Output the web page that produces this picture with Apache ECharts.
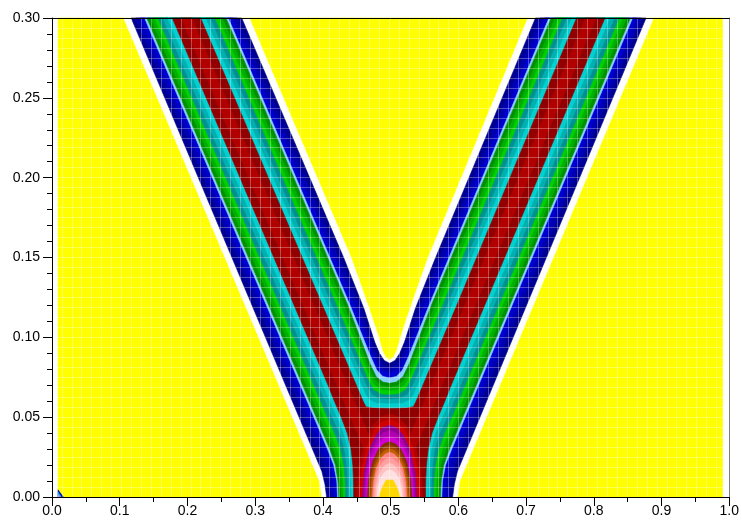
<!DOCTYPE html>
<html><head><meta charset="utf-8">
<script src="https://cdn.jsdelivr.net/npm/echarts@6.0.0/dist/echarts.min.js"></script>
<style>html,body{margin:0;padding:0;background:#fff}#c{width:742px;height:525px}</style>
</head><body><div id="c"></div>
<script>
// Filled contour bands: each array is the region where the field
// exceeds one level (x, t). Drawn from lowest to highest level.
const YELLOW = [[0.009,0],[0.99,0],[0.99,0.3],[0.009,0.3]];
const CORNER_BLUE = [[0.009,0],[0.0166,0],[0.009,0.0045]];
const CORNER_CYAN = [[0.009,0],[0.0135,0],[0.009,0.003]];
const CORNER_PINK = [[0.009,0],[0.011,0],[0.009,0.0015]];
const L08 = [[0.1058,0.3],[0.395,0.01],[0.3985,0],[0.5985,0],[0.602,0.01],[0.8882,0.3],[0.7028,0.3],[0.5555,0.15],[0.5345,0.125],[0.5181,0.1046],[0.5095,0.092],[0.5045,0.0875],[0.4985,0.0858],[0.4925,0.0875],[0.4875,0.092],[0.4789,0.1046],[0.4625,0.125],[0.4415,0.15],[0.2912,0.3]];
const L09 = [[0.1169,0.3],[0.3985,0.016],[0.403,0.008],[0.4055,0],[0.5915,0],[0.594,0.008],[0.5985,0.016],[0.8771,0.3],[0.7139,0.3],[0.5665,0.15],[0.5365,0.118],[0.5205,0.097],[0.5135,0.09],[0.5065,0.0855],[0.4985,0.0837],[0.4905,0.0855],[0.4835,0.09],[0.4765,0.097],[0.4605,0.118],[0.4305,0.15],[0.2801,0.3]];
const L10 = [[0.1235,0.3],[0.3995,0.024],[0.404,0.017],[0.4085,0.009],[0.4105,0],[0.5865,0],[0.5885,0.009],[0.593,0.017],[0.5975,0.024],[0.8705,0.3],[0.7205,0.3],[0.5735,0.15],[0.5435,0.12],[0.5225,0.093],[0.5145,0.086],[0.5065,0.082],[0.4985,0.0806],[0.4905,0.082],[0.4825,0.086],[0.4745,0.093],[0.4535,0.12],[0.4235,0.15],[0.2735,0.3]];
const L11 = [[0.1301,0.3],[0.4021,0.028],[0.4105,0.019],[0.415,0.01],[0.4165,0],[0.5805,0],[0.582,0.01],[0.5865,0.019],[0.5949,0.028],[0.8639,0.3],[0.7271,0.3],[0.5501,0.12],[0.5245,0.0905],[0.5165,0.083],[0.5075,0.0788],[0.4985,0.0776],[0.4895,0.0788],[0.4805,0.083],[0.4725,0.0905],[0.4469,0.12],[0.2669,0.3]];
const L12 = [[0.1367,0.3],[0.4067,0.03],[0.416,0.02],[0.4205,0.01],[0.4215,0],[0.5755,0],[0.5765,0.01],[0.581,0.02],[0.5903,0.03],[0.8573,0.3],[0.7337,0.3],[0.5567,0.12],[0.5265,0.088],[0.5175,0.0795],[0.5085,0.0755],[0.4985,0.0745],[0.4885,0.0755],[0.4795,0.0795],[0.4705,0.088],[0.4403,0.12],[0.2603,0.3]];
const L13 = [[0.1401,0.3],[0.4101,0.03],[0.4185,0.02],[0.4223,0.01],[0.4235,0],[0.5735,0],[0.5747,0.01],[0.5785,0.02],[0.5869,0.03],[0.8539,0.3],[0.7371,0.3],[0.5601,0.12],[0.5275,0.0835],[0.5185,0.0755],[0.5085,0.072],[0.4985,0.0712],[0.4885,0.072],[0.4785,0.0755],[0.4695,0.0835],[0.4369,0.12],[0.2569,0.3]];
const L14 = [[0.1457,0.3],[0.4057,0.04],[0.4155,0.03],[0.423,0.02],[0.426,0.01],[0.427,0],[0.57,0],[0.571,0.01],[0.574,0.02],[0.5815,0.03],[0.5913,0.04],[0.8483,0.3],[0.7427,0.3],[0.5657,0.12],[0.5285,0.0805],[0.5195,0.0728],[0.5095,0.0695],[0.4985,0.0688],[0.4875,0.0695],[0.4775,0.0728],[0.4685,0.0805],[0.4313,0.12],[0.2513,0.3]];
const L15 = [[0.1513,0.3],[0.4113,0.04],[0.421,0.03],[0.427,0.02],[0.4297,0.01],[0.4305,0],[0.5665,0],[0.5673,0.01],[0.57,0.02],[0.576,0.03],[0.5857,0.04],[0.8427,0.3],[0.7483,0.3],[0.5713,0.12],[0.5305,0.078],[0.5215,0.0702],[0.5105,0.067],[0.4985,0.0664],[0.4865,0.067],[0.4755,0.0702],[0.4665,0.078],[0.4257,0.12],[0.2457,0.3]];
const L16 = [[0.1568,0.3],[0.4068,0.05],[0.4175,0.04],[0.426,0.03],[0.431,0.02],[0.433,0.01],[0.4335,0],[0.5635,0],[0.564,0.01],[0.566,0.02],[0.571,0.03],[0.5795,0.04],[0.5902,0.05],[0.8372,0.3],[0.7538,0.3],[0.5768,0.12],[0.5315,0.0745],[0.5225,0.0672],[0.5115,0.0644],[0.4985,0.0639],[0.4855,0.0644],[0.4745,0.0672],[0.4655,0.0745],[0.4202,0.12],[0.2402,0.3]];
const L17 = [[0.1637,0.3],[0.4037,0.06],[0.414,0.05],[0.425,0.04],[0.432,0.03],[0.4355,0.02],[0.437,0.01],[0.4375,0],[0.5595,0],[0.56,0.01],[0.5615,0.02],[0.565,0.03],[0.572,0.04],[0.583,0.05],[0.5933,0.06],[0.8303,0.3],[0.7607,0.3],[0.5837,0.12],[0.532,0.069],[0.5245,0.064],[0.5135,0.0615],[0.4985,0.0611],[0.4835,0.0615],[0.4725,0.064],[0.465,0.069],[0.4133,0.12],[0.2333,0.3]];
const L18 = [[0.1707,0.3],[0.4107,0.06],[0.421,0.05],[0.431,0.04],[0.437,0.03],[0.44,0.02],[0.4412,0.01],[0.4415,0],[0.5555,0],[0.5558,0.01],[0.557,0.02],[0.56,0.03],[0.566,0.04],[0.576,0.05],[0.5863,0.06],[0.8233,0.3],[0.7677,0.3],[0.5907,0.12],[0.5335,0.0635],[0.5275,0.0605],[0.5165,0.0586],[0.4985,0.0583],[0.4805,0.0586],[0.4695,0.0605],[0.4635,0.0635],[0.4063,0.12],[0.2263,0.3]];
const L19 = [[0.1776,0.3],[0.4076,0.07],[0.417,0.06],[0.427,0.05],[0.436,0.04],[0.4415,0.03],[0.4442,0.02],[0.4452,0.01],[0.4455,0],[0.5515,0],[0.5518,0.01],[0.5528,0.02],[0.5555,0.03],[0.561,0.04],[0.57,0.05],[0.58,0.06],[0.5894,0.07],[0.8164,0.3],[0.7746,0.3],[0.5976,0.12],[0.537,0.0594],[0.5335,0.0565],[0.5235,0.0557],[0.4985,0.0555],[0.4735,0.0557],[0.4635,0.0565],[0.46,0.0594],[0.3994,0.12],[0.2194,0.3]];
const L20 = [[0.4498,0],[0.4527,0.0178],[0.4612,0.0334],[0.4741,0.045],[0.4859,0.0502],[0.4985,0.052],[0.5111,0.0502],[0.5229,0.045],[0.5358,0.0334],[0.5443,0.0178],[0.5472,0]];
const L20_LEFT_CORE = [[0.1905,0.3],[0.2065,0.3],[0.4765,0.03],[0.4605,0.03]];
const L20_RIGHT_CORE = [[0.7875,0.3],[0.8035,0.3],[0.5362,0.03],[0.5202,0.03]];
const L21 = [[0.4542,0],[0.4569,0.0166],[0.4646,0.0312],[0.4763,0.042],[0.487,0.0469],[0.4985,0.0485],[0.51,0.0469],[0.5207,0.042],[0.5324,0.0312],[0.5401,0.0166],[0.5428,0]];
const L22 = [[0.4585,0],[0.4609,0.0154],[0.4679,0.0289],[0.4785,0.039],[0.4881,0.0435],[0.4985,0.045],[0.5089,0.0435],[0.5185,0.039],[0.5291,0.0289],[0.5361,0.0154],[0.5385,0]];
const L23 = [[0.4609,0],[0.4632,0.0142],[0.4697,0.0267],[0.4797,0.0359],[0.4888,0.0401],[0.4985,0.0415],[0.5082,0.0401],[0.5173,0.0359],[0.5273,0.0267],[0.5338,0.0142],[0.5361,0]];
const L24 = [[0.4633,0],[0.4654,0.013],[0.4715,0.0244],[0.4809,0.0329],[0.4894,0.0367],[0.4985,0.038],[0.5076,0.0367],[0.5161,0.0329],[0.5255,0.0244],[0.5316,0.013],[0.5337,0]];
const L25 = [[0.4657,0],[0.4677,0.0118],[0.4734,0.0222],[0.4821,0.03],[0.49,0.0334],[0.4985,0.0346],[0.507,0.0334],[0.5149,0.03],[0.5236,0.0222],[0.5293,0.0118],[0.5313,0]];
const L26 = [[0.4681,0],[0.4699,0.0111],[0.4752,0.0208],[0.4833,0.0281],[0.4906,0.0313],[0.4985,0.0324],[0.5064,0.0313],[0.5137,0.0281],[0.5218,0.0208],[0.5271,0.0111],[0.5289,0]];
const L27 = [[0.4706,0],[0.4723,0.0103],[0.4771,0.0194],[0.4845,0.0262],[0.4913,0.0292],[0.4985,0.0302],[0.5057,0.0292],[0.5125,0.0262],[0.5199,0.0194],[0.5247,0.0103],[0.5264,0]];
const L28 = [[0.4731,0],[0.4746,0.0096],[0.479,0.018],[0.4858,0.0242],[0.4919,0.027],[0.4985,0.028],[0.5051,0.027],[0.5112,0.0242],[0.518,0.018],[0.5224,0.0096],[0.5239,0]];
const L29 = [[0.475,0],[0.4764,0.0084],[0.4805,0.0158],[0.4867,0.0212],[0.4924,0.0237],[0.4985,0.0245],[0.5046,0.0237],[0.5103,0.0212],[0.5165,0.0158],[0.5206,0.0084],[0.522,0]];
const L30 = [[0.4775,0],[0.4788,0.0072],[0.4824,0.0135],[0.488,0.0182],[0.4931,0.0203],[0.4985,0.021],[0.5039,0.0203],[0.509,0.0182],[0.5146,0.0135],[0.5182,0.0072],[0.5195,0]];
const L31 = [[0.48,0],[0.4811,0.0058],[0.4843,0.0109],[0.4892,0.0147],[0.4937,0.0164],[0.4985,0.017],[0.5033,0.0164],[0.5078,0.0147],[0.5127,0.0109],[0.5159,0.0058],[0.517,0]];
const L32 = [[0.4828,0],[0.4875,0.006],[0.4935,0.0106],[0.5035,0.0106],[0.5095,0.006],[0.5142,0]];

const bandColors = ['#ffff00','#0000d0','#00d0d0','#ff80ff',
  '#ffffff','#000090','#0000b0','#0000d0','#87ceff','#009000','#00b000','#00d000',
  '#009090','#00b0b0','#00d0d0','#900000','#b00000','#b00000','#b00000','#d00000','#900090','#b000b0','#d000d0',
  '#803000','#a04000','#c06000','#ff8080','#ffa0a0','#ffc0c0','#ffe0e0','#ffd700'];
const bandShapes = [YELLOW, CORNER_BLUE, CORNER_CYAN, CORNER_PINK,
  L08,L09,L10,L11,L12,L13,L14,L15,L16,L17,L18,L19,L20,L20_LEFT_CORE,L20_RIGHT_CORE,L21,
  L22,L23,L24,L25,L26,L27,L28,L29,L30,L31,L32];

const chart = echarts.init(document.getElementById('c'), null, {renderer:'canvas'});
const labelFont = {fontFamily:'Liberation Sans, Arial, sans-serif', fontSize:14, color:'#000'};
const meshLine = {show:true, showMinLine:false, showMaxLine:false, lineStyle:{color:'rgba(255,255,255,0.3)', width:1}};
chart.setOption({
  animation:false,
  backgroundColor:'#fff',
  grid:{left:52, right:10, top:18, bottom:28, containLabel:false},
  xAxis:[
    {type:'value', min:0, max:1, interval:0.1, position:'bottom', z:20,
     axisLine:{show:true, onZero:false, lineStyle:{color:'#000', width:1}},
     axisTick:{show:true, length:9, lineStyle:{color:'#000'}},
     minorTick:{show:true, splitNumber:2, length:5, lineStyle:{color:'#000'}},
     splitLine:{show:false},
     axisLabel:Object.assign({margin:7, formatter:v=>v.toFixed(1)}, labelFont)},
    {type:'value', min:-0.009, max:0.991, interval:0.981/67, position:'top', z:10,
     axisLine:{show:true, onZero:false, lineStyle:{color:'#000', width:1}},
     axisTick:{show:false}, axisLabel:{show:false}, splitLine:meshLine}
  ],
  yAxis:[
    {type:'value', min:0, max:0.3, interval:0.05, position:'left', z:20,
     axisLine:{show:true, onZero:false, lineStyle:{color:'#000', width:1}},
     axisTick:{show:true, length:9, lineStyle:{color:'#000'}},
     minorTick:{show:true, splitNumber:5, length:5, lineStyle:{color:'#000'}},
     splitLine:{show:false},
     axisLabel:Object.assign({margin:12, formatter:v=>v.toFixed(2)}, labelFont)},
    {type:'value', min:0, max:0.3, interval:0.00625, position:'right', z:10,
     axisLine:{show:true, onZero:false, lineStyle:{color:'#808080', width:1}},
     axisTick:{show:false}, axisLabel:{show:false}, splitLine:meshLine}
  ],
  series:[{
    type:'custom', xAxisIndex:0, yAxisIndex:0, silent:true, z:2,
    data: bandShapes.map((s,i)=>[s[0][0], s[0][1], i]),
    renderItem:function(params, api){
      const k = params.dataIndex;
      const pts = bandShapes[k].map(p=>api.coord(p));
      return {type:'polygon', z2:k, shape:{points:pts},
              style:{fill:bandColors[k], stroke:bandColors[k], lineWidth:0.6}};
    }
  }]
});
</script>
</body></html>
